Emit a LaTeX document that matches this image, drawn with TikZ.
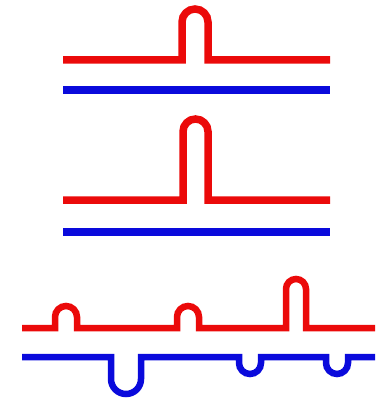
\documentclass[tikz,border=0pt]{standalone}
\definecolor{hotred}{RGB}{235,10,10}
\definecolor{coldblue}{RGB}{10,10,220}
\begin{document}
\begin{tikzpicture}[x=1pt,y=-1pt,
  hot/.style={draw=hotred,line width=7.5pt},
  cold/.style={draw=coldblue,line width=7.5pt}]
\useasboundingbox (0,0) rectangle (379,401);

\draw[hot] (63,60) -- (182,60) -- (182,22) arc[start angle=180,delta angle=180,radius=13] -- (208,60) -- (330,60);
\draw[cold] (63,90) -- (330,90);

\draw[hot] (63,200) -- (183,200) -- (183,131.5) arc[start angle=180,delta angle=180,radius=12.5] -- (208,200) -- (330,200);
\draw[cold] (63,232) -- (330,232);

\draw[hot,line width=6.5pt] (22,328) -- (55,328) -- (55,317) arc[start angle=180,delta angle=180,radius=11] -- (77,328)
  -- (177,328) -- (177,317) arc[start angle=180,delta angle=180,radius=11] -- (199,328)
  -- (286,328) -- (286,289) arc[start angle=180,delta angle=180,radius=10] -- (306,328) -- (375,328);
\draw[cold,line width=6.5pt] (22,357) -- (111,357) -- (111,379) arc[start angle=180,delta angle=-180,radius=15] -- (141,357)
  -- (239,357) -- (239,363) arc[start angle=180,delta angle=-180,radius=11] -- (261,357)
  -- (326,357) -- (326,363) arc[start angle=180,delta angle=-180,radius=11] -- (348,357) -- (375,357);
\end{tikzpicture}
\end{document}
